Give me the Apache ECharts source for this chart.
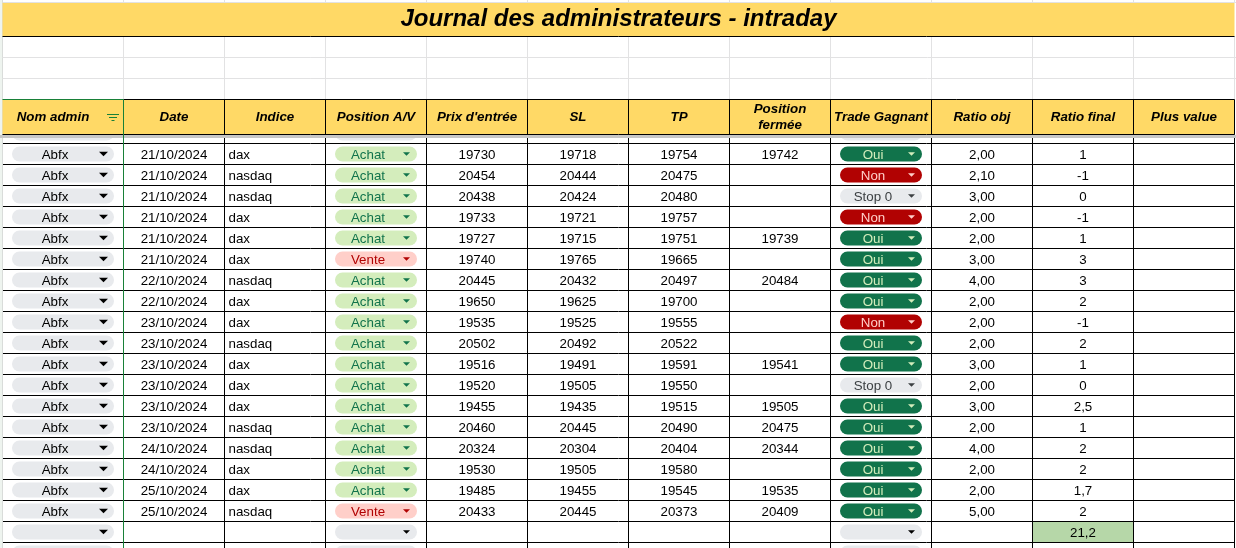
<!DOCTYPE html>
<html>
<head>
<meta charset="utf-8">
<title>Journal des administrateurs - intraday</title>
<script src="https://cdn.jsdelivr.net/npm/echarts@6/dist/echarts.min.js"></script>
<style>
    html, body { margin: 0; padding: 0; background: #fff; }
    #main { width: 1236px; height: 548px; }
</style>
</head>
<body>
<div id="main"></div>
<script>
// données du journal
const titre = 'Journal des administrateurs - intraday';
const entetes = ['Nom admin', 'Date', 'Indice', 'Position A/V', "Prix d'entrée", 'SL', 'TP',
    'Position\nfermée', 'Trade Gagnant', 'Ratio obj', 'Ratio final', 'Plus value'];
const admins = ['Abfx', 'Abfx', 'Abfx', 'Abfx', 'Abfx', 'Abfx', 'Abfx', 'Abfx', 'Abfx',
    'Abfx', 'Abfx', 'Abfx', 'Abfx', 'Abfx', 'Abfx', 'Abfx', 'Abfx', 'Abfx'];
const dates = ['21/10/2024', '21/10/2024', '21/10/2024', '21/10/2024', '21/10/2024', '21/10/2024',
    '22/10/2024', '22/10/2024', '23/10/2024', '23/10/2024', '23/10/2024', '23/10/2024',
    '23/10/2024', '23/10/2024', '24/10/2024', '24/10/2024', '25/10/2024', '25/10/2024'];
const indices = ['dax', 'nasdaq', 'nasdaq', 'dax', 'dax', 'dax', 'nasdaq', 'dax', 'dax',
    'nasdaq', 'dax', 'dax', 'dax', 'nasdaq', 'nasdaq', 'dax', 'dax', 'nasdaq'];
const positions = ['Achat', 'Achat', 'Achat', 'Achat', 'Achat', 'Vente', 'Achat', 'Achat', 'Achat',
    'Achat', 'Achat', 'Achat', 'Achat', 'Achat', 'Achat', 'Achat', 'Achat', 'Vente'];
const prixEntree = [19730, 20454, 20438, 19733, 19727, 19740, 20445, 19650, 19535,
    20502, 19516, 19520, 19455, 20460, 20324, 19530, 19485, 20433];
const stopLoss = [19718, 20444, 20424, 19721, 19715, 19765, 20432, 19625, 19525,
    20492, 19491, 19505, 19435, 20445, 20304, 19505, 19455, 20445];
const takeProfit = [19754, 20475, 20480, 19757, 19751, 19665, 20497, 19700, 19555,
    20522, 19591, 19550, 19515, 20490, 20404, 19580, 19545, 20373];
const fermee = [19742, null, null, null, 19739, null, 20484, null, null,
    null, 19541, null, 19505, 20475, 20344, null, 19535, 20409];
const gagnant = ['Oui', 'Non', 'Stop 0', 'Non', 'Oui', 'Oui', 'Oui', 'Oui', 'Non',
    'Oui', 'Oui', 'Stop 0', 'Oui', 'Oui', 'Oui', 'Oui', 'Oui', 'Oui'];
const ratioObj = [2, 2.1, 3, 2, 2, 3, 4, 2, 2, 2, 3, 2, 3, 2, 4, 2, 2, 5];
const ratioFinal = [1, -1, 0, -1, 1, 3, 3, 2, -1, 2, 1, 0, 2.5, 1, 2, 2, 1.7, 2];

// mise en page de la feuille (unités = px de l'axe)
const colEdges = [2.5, 123.5, 224.5, 325.5, 426.5, 527.5, 628.5, 729.5, 830.5, 931.5, 1032.5, 1133.5, 1234.5];
const titleBand = [2.5, 36.5];
const blankLines = [57.5, 78.5];
const headerBand = [99.5, 134.5];
const firstRowTop = 143.5;
const rowH = 21;

const JAUNE = '#ffd966';
const GRIS = '#e2e2e3';
const VERT_SEL = '#188038';
const font = '13.33px "Liberation Sans", Arial, sans-serif';
const fontHead = 'italic bold 13.33px "Liberation Sans", Arial, sans-serif';
const fontTitle = 'italic bold 24px "Liberation Sans", Arial, sans-serif';

const pillStyles = {
    vide: { bg: '#e8eaed', fg: '#000', arrow: '#000' },
    Abfx: { bg: '#e8eaed', fg: '#000', arrow: '#000' },
    Achat: { bg: '#d4edbc', fg: '#11734b', arrow: '#11734b' },
    Vente: { bg: '#ffcfc9', fg: '#b10202', arrow: '#b10202' },
    Oui: { bg: '#11734b', fg: '#d4edbc', arrow: '#d4edbc' },
    Non: { bg: '#b10202', fg: '#ffcfc9', arrow: '#ffcfc9' },
    'Stop 0': { bg: '#e8eaed', fg: '#3c4043', arrow: '#3c4043' }
};

const fmt2 = v => v.toFixed(2).replace('.', ',');
const fmt = v => String(v).replace('.', ',');
const rowTop = r => firstRowTop + rowH * r;

function cell(c, y0, y1, props) {
    return Object.assign({ x0: colEdges[c], x1: colEdges[c + 1], y0, y1, dy: 1.3 }, props);
}

// cellules de la zone de données (ligne -1 masquée sous le gel, 18 = ligne vide, 19 = partielle)
const dataCells = [];
for (let r = -1; r <= 19; r++) {
    const t = rowTop(r), b = t + rowH;
    if (r < 0 || r > 17) {
        [0, 3, 8].forEach(c => dataCells.push(cell(c, t, b, { pill: 'vide', arrowW: c === 0 ? 9 : 7 })));
        continue;
    }
    dataCells.push(cell(0, t, b, { pill: admins[r], text: admins[r], arrowW: 9 }));
    dataCells.push(cell(1, t, b, { text: dates[r] }));
    dataCells.push(cell(2, t, b, { text: indices[r], align: 'left' }));
    dataCells.push(cell(3, t, b, { pill: positions[r], text: positions[r] }));
    dataCells.push(cell(4, t, b, { text: String(prixEntree[r]) }));
    dataCells.push(cell(5, t, b, { text: String(stopLoss[r]) }));
    dataCells.push(cell(6, t, b, { text: String(takeProfit[r]) }));
    if (fermee[r] !== null) dataCells.push(cell(7, t, b, { text: String(fermee[r]) }));
    dataCells.push(cell(8, t, b, { pill: gagnant[r], text: gagnant[r] }));
    dataCells.push(cell(9, t, b, { text: fmt2(ratioObj[r]) }));
    dataCells.push(cell(10, t, b, { text: fmt(ratioFinal[r]) }));
}
const total = Math.round(ratioFinal.reduce((s, v) => s + v, 0) * 10) / 10;
dataCells.push(cell(10, rowTop(18), rowTop(19), { fill: '#b6d7a8', text: fmt(total) }));

// titre, en-têtes, bande de gel
const topCells = [
    { x0: 0, x1: 2.5, y0: 0, y1: 548, fill: '#eef4ef' },
    { x0: colEdges[0], x1: colEdges[12], y0: titleBand[0], y1: titleBand[1], fill: JAUNE, text: titre, font: fontTitle, dy: 0 },
    { x0: colEdges[0], x1: colEdges[12], y0: headerBand[0], y1: headerBand[1], fill: JAUNE },
    { x0: 0, x1: 1236, y0: 135, y1: 138, fill: '#c7c7c7' }
];
entetes.forEach((h, c) => {
    topCells.push(cell(c, headerBand[0], headerBand[1], { text: h, font: fontHead, dx: c === 0 ? -10 : 0, dy: 0, filter: c === 0 }));
});

// traits de la grille
const lowLines = [];
const highLines = [];
for (let k = 0; k <= 19; k++) {
    lowLines.push({ x1: colEdges[0], y1: rowTop(k), x2: colEdges[12], y2: rowTop(k), color: '#000' });
}
for (let c = 2; c <= 12; c++) {
    lowLines.push({ x1: colEdges[c], y1: headerBand[1], x2: colEdges[c], y2: 548, color: '#000' });
}
lowLines.push({ x1: colEdges[0], y1: 0, x2: colEdges[0], y2: 548, color: '#c4c4c4' });

highLines.push({ x1: colEdges[0], y1: 2.5, x2: 1236, y2: 2.5, color: GRIS });
blankLines.forEach(y => highLines.push({ x1: colEdges[0], y1: y, x2: 1236, y2: y, color: GRIS }));
for (let c = 1; c <= 12; c++) {
    highLines.push({ x1: colEdges[c], y1: 0, x2: colEdges[c], y2: 2.5, color: GRIS });
    highLines.push({ x1: colEdges[c], y1: titleBand[1], x2: colEdges[c], y2: headerBand[0], color: GRIS });
}
highLines.push({ x1: colEdges[0], y1: titleBand[1], x2: colEdges[12], y2: titleBand[1], color: '#000' });
highLines.push({ x1: colEdges[1], y1: headerBand[0], x2: colEdges[12], y2: headerBand[0], color: '#000' });
highLines.push({ x1: colEdges[0], y1: headerBand[1], x2: colEdges[12], y2: headerBand[1], color: '#000' });
for (let c = 2; c <= 12; c++) {
    highLines.push({ x1: colEdges[c], y1: headerBand[0], x2: colEdges[c], y2: headerBand[1], color: '#000' });
}
highLines.push({ x1: colEdges[0], y1: headerBand[0], x2: colEdges[1], y2: headerBand[0], color: VERT_SEL });
highLines.push({ x1: colEdges[1], y1: headerBand[0], x2: colEdges[1], y2: 548, color: VERT_SEL });

function drawCell(d, api) {
    const a = api.coord([api.value(0), api.value(1)]);
    const b = api.coord([api.value(2), api.value(3)]);
    const x = a[0], y = a[1], w = b[0] - a[0], h = b[1] - a[1];
    const cy = y + h / 2;
    const ty = cy + (d.dy || 0);
    const kids = [];
    if (d.fill) {
        kids.push({ type: 'rect', shape: { x, y, width: w, height: h }, style: { fill: d.fill } });
    }
    if (d.pill) {
        const ps = pillStyles[d.pill];
        const px = x + 9.5, pw = w - 19;
        kids.push({ type: 'rect', shape: { x: px, y: cy - 7.5, width: pw, height: 15, r: 7.5 }, style: { fill: ps.bg } });
        const ax = px + pw - 10.5, aw = d.arrowW || 7, ah = aw / 2;
        kids.push({
            type: 'polygon',
            shape: { points: [[ax - aw / 2, cy - ah / 2], [ax + aw / 2, cy - ah / 2], [ax, cy + ah / 2]] },
            style: { fill: ps.arrow }
        });
        if (d.text) {
            kids.push({ type: 'text', style: { text: d.text, x: px + pw / 2 - 8, y: ty, align: 'center', verticalAlign: 'middle', font, fill: ps.fg } });
        }
    } else if (d.text != null) {
        const left = d.align === 'left';
        kids.push({
            type: 'text',
            style: {
                text: d.text, x: left ? x + 4 : x + w / 2 + (d.dx || 0), y: ty,
                align: left ? 'left' : 'center', verticalAlign: 'middle',
                font: d.font || font, fill: '#000', lineHeight: 16
            }
        });
    }
    if (d.filter) {
        const fx = x + w - 10.5;
        [[12, -3], [8, 0], [3, 3]].forEach(([lw, off]) => {
            kids.push({ type: 'line', shape: { x1: fx - lw / 2, y1: cy + off + 0.5, x2: fx + lw / 2, y2: cy + off + 0.5 }, style: { stroke: VERT_SEL, lineWidth: 1 } });
        });
    }
    return { type: 'group', children: kids };
}

function cellSeries(items, z) {
    return {
        type: 'custom', z, silent: true, clip: true,
        encode: { x: [0, 2], y: [1, 3] },
        data: items.map(d => [d.x0, d.y0, d.x1, d.y1]),
        renderItem: (params, api) => drawCell(items[params.dataIndex], api)
    };
}

function lineSeries(segs, z) {
    return {
        type: 'custom', z, silent: true, clip: true,
        encode: { x: [0, 2], y: [1, 3] },
        data: segs.map(s => [s.x1, s.y1, s.x2, s.y2]),
        renderItem: (params, api) => {
            const p = api.coord([api.value(0), api.value(1)]);
            const q = api.coord([api.value(2), api.value(3)]);
            return {
                type: 'line',
                shape: { x1: p[0], y1: p[1], x2: q[0], y2: q[1] },
                style: { stroke: segs[params.dataIndex].color, lineWidth: 1 }
            };
        }
    };
}

const myChart = echarts.init(document.getElementById('main'));
const option = {
    animation: false,
    backgroundColor: '#fff',
    grid: { left: 0, right: 0, top: 0, bottom: 0 },
    xAxis: { type: 'value', min: 0, max: 1236, show: false },
    yAxis: { type: 'value', min: 0, max: 548, inverse: true, show: false },
    series: [
        cellSeries(dataCells, 1),
        lineSeries(lowLines, 2),
        cellSeries(topCells, 3),
        lineSeries(highLines, 4)
    ]
};
myChart.setOption(option);
window.addEventListener('resize', () => {
    myChart.resize();
});
</script>
</body>
</html>
